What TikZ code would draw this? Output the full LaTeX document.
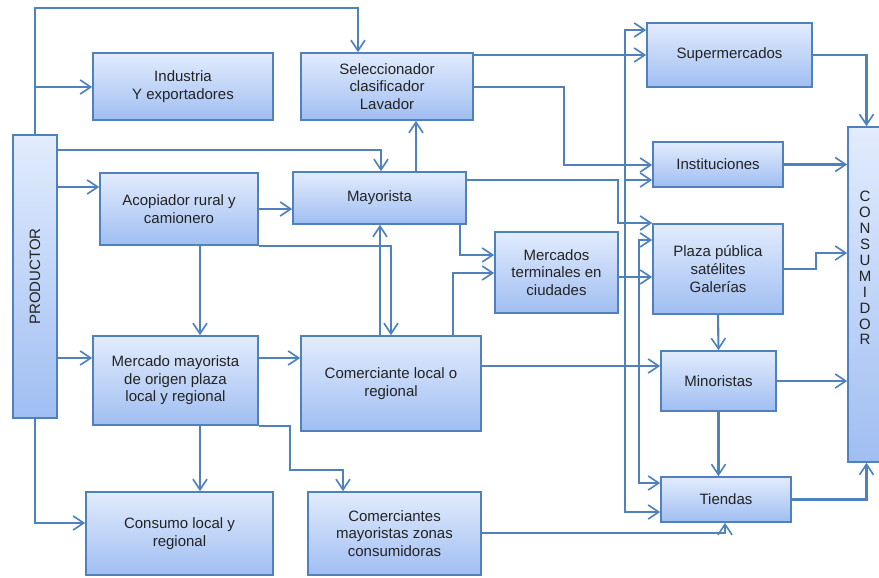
\documentclass[tikz,border=0pt]{standalone}
\usepackage{fontspec}
\setmainfont{Liberation Sans}
\usepackage{graphicx}
\usetikzlibrary{arrows.meta,shadows}
\newcommand{\pxu}{0.03cm}
\definecolor{linea}{RGB}{79,129,189}
\definecolor{claro}{RGB}{226,236,253}
\definecolor{oscuro}{RGB}{160,190,242}
\definecolor{texto}{RGB}{35,35,35}
\begin{document}
\begin{tikzpicture}[x=0.03cm, y=-0.03cm]
        \tikzset{caja/.style 2 args={draw=linea, line width=1.4pt, top color=claro, bottom color=oscuro, align=center, inner sep=0pt, text=texto, font=\fontsize{12.8}{15}\selectfont, minimum width=#1*\pxu, minimum height=#2*\pxu, drop shadow={opacity=0.25, shadow xshift=1pt, shadow yshift=-1pt}},
                 flecha/.style={draw=linea, line width=1.8pt, -{Straight Barb[length=9pt, width=12pt, line width=1.4pt]}}}
        \useasboundingbox (0,0) rectangle (879,577);

        \draw node[caja={44}{283}] (prod) at (35,276.5) {\rotatebox{90}{PRODUCTOR}};
        \draw node[caja={180}{67}] (ind) at (183,86.5) {Industria\\Y exportadores};
        \draw node[caja={172}{67}] (sel) at (387,86.5) {Seleccionador\\clasificador\\Lavador};
        \draw node[caja={158}{72}] (acop) at (179,209) {Acopiador rural y\\camionero};
        \draw node[caja={173}{52}] (may) at (379.5,198) {Mayorista};
        \draw node[caja={165}{89}] (mmay) at (175.5,380.5) {Mercado mayorista\\de origen plaza\\local y regional};
        \draw node[caja={180}{95}] (com) at (391,383.5) {Comerciante local o\\regional};
        \draw node[caja={187}{83}] (cons) at (179.5,533.5) {Consumo local y\\regional};
        \draw node[caja={173}{83}] (cmay) at (394.5,533.5) {Comerciantes\\mayoristas zonas\\consumidoras};
        \draw node[caja={123}{81}] (mter) at (556.5,272.5) {Mercados\\terminales en\\ciudades};
        \draw node[caja={165}{64}] (sup) at (729.5,55) {Supermercados};
        \draw node[caja={130}{45}] (inst) at (718,164.5) {Instituciones};
        \draw node[caja={130}{90}] (plaza) at (718,269) {Plaza pública\\satélites\\Galerías};
        \draw node[caja={115}{60}] (mino) at (718.5,381) {Minoristas};
        \draw node[caja={130}{45}] (tien) at (726,499.5) {Tiendas};
        \draw node[caja={37}{335}] (cnsr) at (866.5,294.5) {};
        \draw node[text=texto, align=center, font=\fontsize{12.8}{13.6}\selectfont] (cnsrtxt) at (865,268) {C\\O\\N\\S\\U\\M\\I\\D\\O\\R};

        % productor
        \draw[flecha] (prod.north) |- (358,8) -- (sel.north -| 358,0);
        \draw[flecha] (prod.north |- 0,87) -- (ind.west |- 0,87);
        \draw[flecha] (prod.east |- 0,150) -| (may.north -| 381,0);
        \draw[flecha] (prod.east |- 0,187) -- (acop.west |- 0,187);
        \draw[flecha] (prod.east |- 0,358) -- (mmay.west |- 0,358);
        \draw[flecha] (prod.south) |- (cons.west |- 0,523);

        % acopiador, mayorista, seleccionador
        \draw[flecha] (acop.east) -- (may.west |- acop.east);
        \draw[flecha] (acop.south -| 200,0) -- (mmay.north -| 200,0);
        \draw[flecha] (acop.south east) -| (com.north -| 391,0);
        \draw[flecha] (may.north -| 416,0) -- (sel.south -| 416,0);
        \draw[flecha] (may.east |- 0,180) -| (618,223) -- (plaza.west |- 0,223);
        \draw[flecha] (may.south -| 460,0) |- (mter.west |- 0,255);
        \draw[flecha] (sel.east |- sup.west) -- (sup.west);
        \draw[flecha] (sel.east |- 0,87) -| (564,165) -- (inst.west |- 0,165);

        % mercado mayorista y comerciantes
        \draw[flecha] (mmay.east |- 0,358) -- (com.west |- 0,358);
        \draw[flecha] (mmay.south -| 200,0) -- (cons.north -| 200,0);
        \draw[flecha] (mmay.south east) -| (290,470) -| (cmay.north -| 343,0);
        \draw[flecha] (com.north -| 380,0) -- (may.south -| 380,0);
        \draw[flecha] (com.north -| 453,0) |- (mter.west |- 0,273);
        \draw[flecha] (com.east |- 0,366) -- (mino.west |- 0,366);
        \draw[flecha] (cmay.east |- 0,533) -| (tien.south -| 725,0);

        % mercados terminales
        \draw[flecha] (mter.east |- 0,277) -- (plaza.west |- 0,277);
        \coordinate (rama1) at (625,277);
        \coordinate (rama2) at (639,366);
        \draw[flecha] (rama1) |- (sup.west |- 0,30);
        \draw[flecha] (rama1) |- (inst.west |- 0,180);
        \draw[flecha] (rama1) |- (tien.west |- 0,512);
        \draw[flecha] (rama2) |- (plaza.west |- 0,240);
        \draw[flecha] (rama2) |- (tien.west |- 0,483);

        % hacia el consumidor
        \draw[flecha] (plaza.south) -- (mino.north);
        \draw[flecha] (mino.south) -- (mino.south |- tien.north);
        \draw[flecha] (sup.east) -| (cnsr.north);
        \draw[flecha] (inst.east) -- (cnsr.west |- inst.east);
        \draw[flecha] (plaza.east) -| (816,253) -- (cnsr.west |- 0,253);
        \draw[flecha] (mino.east) -- (cnsr.west |- mino.east);
        \draw[flecha] (tien.east) -| (cnsr.south);
\end{tikzpicture}
\end{document}
